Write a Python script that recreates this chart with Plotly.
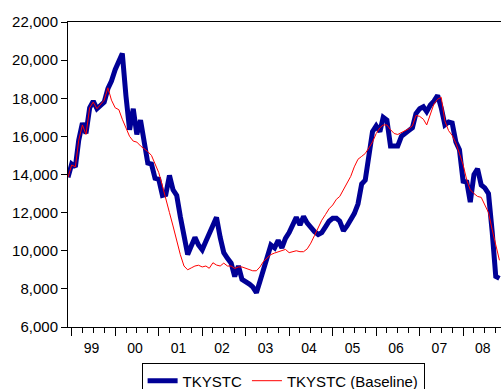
import pandas as pd
import plotly.graph_objects as go

# Monthly observations, Dec 1998 .. Nov 2008
months = pd.date_range("1998-12-01", periods=120, freq="MS")

tkystc = [
    13850,
    14550, 14400, 15800, 16700, 16150, 17500, 17850, 17450, 17600, 17800, 18500, 18900,
    19500, 19950, 20350, 18100, 16350, 17450, 16100, 16850, 15700, 14600, 14550, 13800,
    13750, 12900, 12950, 13950, 13200, 12900, 11800, 10700, 9800, 10250, 10700, 10300,
    10050, 10500, 10950, 11400, 11750, 10700, 9900, 9600, 9350, 8650, 9200, 8500,
    8400, 8250, 8100, 7800, 8400, 9000, 9700, 10300, 10150, 10550, 10150, 10650,
    10950, 11300, 11750, 11350, 11800, 11450, 11200, 11000, 10850, 10950, 11250, 11550,
    11700, 11700, 11550, 11050, 11300, 11650, 11950, 12450, 13500, 13700, 15100, 16250,
    16550, 16250, 17000, 16850, 15500, 15500, 15500, 16000, 16200, 16300, 16450, 17200,
    17450, 17550, 17300, 17650, 17850, 18150, 17500, 16600, 16750, 16700, 15700, 15300,
    13650, 13600, 12550, 14000, 14300, 13450, 13300, 13000, 11000, 8650, 8550,
]

baseline = [
    13850,
    14500, 14400, 15800, 16600, 16100, 17500, 17800, 17450, 17650, 17900, 18550, 17900,
    17500, 17400, 16900, 16400, 16000, 15750, 15700, 15500, 15350, 15200, 15000, 14600,
    14100, 13400, 12800, 12000, 11300, 10500, 9800, 9200, 9000, 9100, 9200, 9240,
    9150, 9200, 9080, 9370, 9250, 9200, 9350, 9200, 9200, 9070, 9150, 9150,
    9080, 9050, 8950, 8950, 9150, 9450, 9650, 9800, 9880, 9950, 10030, 10070,
    9900, 9950, 10000, 9950, 9950, 10100, 10400, 10800, 11200, 11600, 11900, 12200,
    12400, 12700, 12850, 13200, 13500, 13900, 14400, 14800, 14950, 15100, 15400, 15700,
    16150, 16450, 16600, 16600, 16350, 16150, 16100, 16200, 16300, 16400, 16550, 17100,
    17050, 16900, 16600, 17200, 17700, 17950, 18050, 16800, 16300, 16050, 15650, 15100,
    14500, 13700, 13200, 13000, 12850, 12800, 12400, 12000, 11100, 10300, 9500,
]

family = "Liberation Sans, Arial, sans-serif"
font = dict(family=family, size=14, color="black")
ytick_font = dict(family=family, size=15, color="black")
legend_font = dict(family=family, size=15, color="black")

fig = go.Figure()
fig.add_trace(go.Scatter(
    x=months, y=tkystc, mode="lines", name="TKYSTC",
    line=dict(color="#000096", width=5),
))
fig.add_trace(go.Scatter(
    x=months, y=baseline, mode="lines", name="TKYSTC (Baseline)",
    line=dict(color="#ff0000", width=1),
))

fig.update_layout(
    width=501, height=389,
    margin=dict(l=68, r=0, t=22, b=62, autoexpand=False),
    paper_bgcolor="white", plot_bgcolor="white",
    font=font,
    showlegend=True,
    legend=dict(
        orientation="h", x=0.170, xanchor="left", y=-0.1195, yanchor="top",
        bordercolor="black", borderwidth=1, bgcolor="white", font=legend_font,
    ),
)

fig.update_xaxes(
    type="date", range=["1998-12-01", "2008-11-14"],
    tick0="1999-01-01", dtick="M12", tickformat="%y", ticklabelmode="period",
    ticklabelshift=-2,
    ticks="outside", ticklen=8, tickwidth=1, tickcolor="black",
    minor=dict(dtick="M3", ticks="outside", ticklen=5, tickwidth=1,
               tickcolor="black", showgrid=False),
    showline=True, linecolor="black", linewidth=1, mirror=True,
    showgrid=False, zeroline=False, tickfont=font,
)
fig.update_yaxes(
    range=[6000, 22000], tick0=6000, dtick=2000, tickformat=",d",
    ticks="outside", ticklen=6, tickwidth=1, tickcolor="black",
    showline=True, linecolor="black", linewidth=1,
    showgrid=False, zeroline=False, tickfont=ytick_font,
)

fig.write_html("out.html")
